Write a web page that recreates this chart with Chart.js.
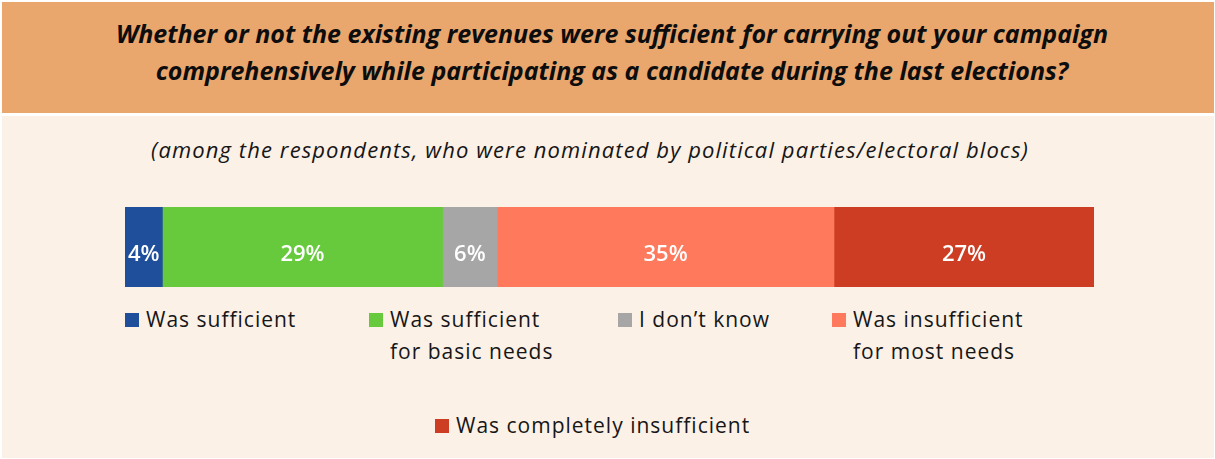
<!DOCTYPE html>
<html>
<head>
<meta charset="utf-8">
<script src="https://cdn.jsdelivr.net/npm/chart.js@4/dist/chart.umd.min.js"></script>
<style>
  html, body { margin: 0; padding: 0; background: #ffffff; }
  body { width: 1215px; height: 459px; position: relative; overflow: hidden; font-family: "Open Sans", sans-serif; color: #111; }
  #header { position: absolute; left: 2px; top: 2px; width: 1212px; height: 111px; background: #E9A76E; }
  #title { position: absolute; left: 4px; top: 13px; width: 100%; text-align: center; font-size: 25px; line-height: 37px; font-weight: 700; font-style: italic; color: #0d0d0d; }
  #panel { position: absolute; left: 2px; top: 116px; width: 1212px; height: 342px; background: #FCF1E7; }
  #subtitle { position: absolute; left: 0; top: 134px; width: 1180px; text-align: center; font-size: 22px; letter-spacing: 1.1px; font-style: italic; color: #161616; }
  #bar { position: absolute; left: 125px; top: 207px; width: 969px; height: 80px; }
  .sw { position: absolute; width: 14px; height: 14px; }
  .lt { position: absolute; font-size: 21px; letter-spacing: 1px; line-height: 32px; color: #161616; white-space: nowrap; }
</style>
</head>
<body>
<div id="header"><div id="title">Whether or not the existing revenues were sufficient for carrying out your campaign<br>comprehensively while participating as a candidate during the last elections?</div></div>
<div id="panel"></div>
<div id="subtitle">(among the respondents, who were nominated by political parties/electoral blocs)</div>
<div id="bar"><canvas id="c"></canvas></div>
<div id="legend"></div>
<script>
// answers (legend labels, line-broken as in the original)
const categories = [
  ['Was sufficient'],
  ['Was sufficient', 'for basic needs'],
  ['I don’t know'],
  ['Was insufficient', 'for most needs'],
  ['Was completely insufficient']
];
// share of respondents, %
const values = [3.9, 29.2, 5.7, 35.1, 27.1];
const colors = ['#1F4E9A', '#66CA3C', '#A6A6A6', '#FF795C', '#CC3D24'];

// legend item spots [left, top of swatch]
const legendSpots = [[125, 313], [369, 313], [618, 313], [832, 313], [435, 419]];

const total = values.reduce((a, b) => a + b, 0);

// white % labels in the middle of each segment
const segLabels = {
  id: 'segLabels',
  afterDatasetsDraw(chart) {
    const ctx = chart.ctx;
    ctx.save();
    ctx.fillStyle = '#ffffff';
    ctx.font = '600 22px "Open Sans", sans-serif';
    ctx.textAlign = 'center';
    ctx.textBaseline = 'alphabetic';
    chart.data.datasets.forEach((ds, i) => {
      const bar = chart.getDatasetMeta(i).data[0];
      const cx = (bar.x + bar.base) / 2;
      ctx.fillText(Math.round(ds.data[0]) + '%', cx, bar.y + 14);
    });
    ctx.restore();
  }
};

new Chart(document.getElementById('c'), {
  type: 'bar',
  data: {
    labels: [''],
    datasets: categories.map((c, i) => ({
      label: c.join(' '),
      data: [values[i]],
      backgroundColor: colors[i],
      borderWidth: 0,
      barPercentage: 1,
      categoryPercentage: 1
    }))
  },
  options: {
    indexAxis: 'y',
    responsive: true,
    maintainAspectRatio: false,
    animation: false,
    layout: { padding: 0 },
    scales: {
      x: { stacked: true, display: false, min: 0, max: total },
      y: { stacked: true, display: false }
    },
    plugins: { legend: { display: false }, tooltip: { enabled: false } }
  },
  plugins: [segLabels]
});

// legend built from the same arrays
const lg = document.getElementById('legend');
categories.forEach((lines, i) => {
  const [x, y] = legendSpots[i];
  const sw = document.createElement('div');
  sw.className = 'sw';
  sw.style.left = x + 'px';
  sw.style.top = y + 'px';
  sw.style.background = colors[i];
  lg.appendChild(sw);
  const t = document.createElement('div');
  t.className = 'lt';
  t.style.left = (x + 21) + 'px';
  t.style.top = (y - 10) + 'px';
  t.innerHTML = lines.join('<br>');
  lg.appendChild(t);
});
</script>
</body>
</html>
